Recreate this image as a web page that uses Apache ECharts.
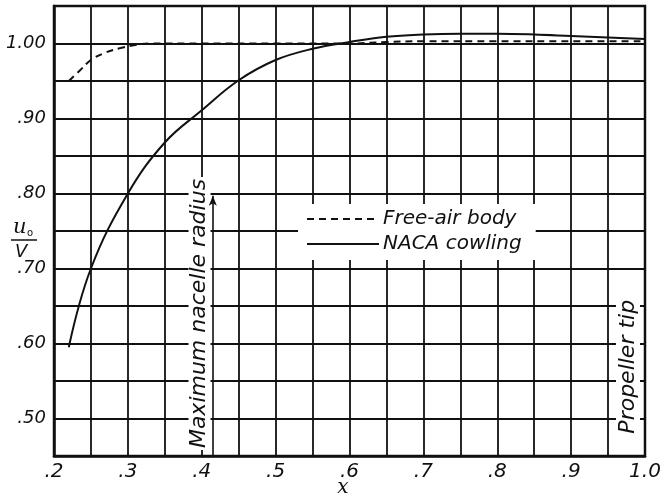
<!DOCTYPE html>
<html>
<head>
<meta charset="utf-8">
<script src="https://cdn.jsdelivr.net/npm/echarts@6/dist/echarts.min.js"></script>
<style>
  html, body { margin: 0; padding: 0; background: #fff; }
  #main { width: 662px; height: 499px; }
</style>
</head>
<body>
<div id="main"></div>
<script>
// free-air body (dashed)
var freeAirX = [0.22, 0.235, 0.25, 0.27, 0.29, 0.31, 0.33, 0.4, 0.5, 0.6, 0.65, 0.7, 0.8, 0.9, 1.0];
var freeAirY = [0.95, 0.964, 0.978, 0.988, 0.994, 0.998, 1.0, 1.0, 1.0, 1.0, 1.002, 1.003, 1.003, 1.003, 1.003];
// NACA cowling (solid)
var cowlingX = [0.22, 0.25, 0.3, 0.35, 0.4, 0.45, 0.5, 0.55, 0.6, 0.65, 0.7, 0.75, 0.8, 0.85, 0.9, 0.95, 1.0];
var cowlingY = [0.595, 0.70, 0.80, 0.868, 0.911, 0.951, 0.978, 0.993, 1.002, 1.009, 1.012, 1.013, 1.013, 1.012, 1.010, 1.008, 1.006];

var nacelleX = 0.415;       // maximum nacelle radius marker
var nacelleTop = 0.797;
var propellerX = 0.977;     // label position near propeller tip

var seriesNames = ['Free-air body', 'NACA cowling'];

function zip(xs, ys) {
    var out = [];
    for (var i = 0; i < xs.length; i++) out.push([xs[i], ys[i]]);
    return out;
}

var ink = '#111';
var font = '"DejaVu Sans", sans-serif';

var myChart = echarts.init(document.getElementById('main'));

var option = {
    backgroundColor: '#fff',
    animation: false,
    grid: {
        left: 54, right: 17, top: 6, bottom: 43,
        containLabel: false, outerBoundsMode: 'none',
        show: true, borderColor: ink, borderWidth: 2.5, backgroundColor: 'transparent'
    },
    legend: {
        orient: 'vertical',
        left: 298, top: 204,
        backgroundColor: '#fff',
        padding: [5, 14, 6, 8],
        itemWidth: 72, itemHeight: 14, itemGap: 5,
        data: seriesNames,
        itemStyle: { color: 'transparent', borderColor: 'transparent', borderWidth: 0 },
        textStyle: { fontFamily: font, fontStyle: 'italic', fontSize: 20, color: ink, padding: [0, 0, 0, -1] }
    },
    xAxis: {
        type: 'value',
        min: 0.2, max: 1.0, interval: 0.05,
        axisLine: { show: true, lineStyle: { color: ink, width: 2.5 } },
        axisTick: { show: false },
        axisLabel: {
            margin: 6,
            fontFamily: font, fontStyle: 'italic', fontSize: 20, color: ink,
            formatter: function (v) {
                var k = Math.round(v * 100);
                if (k % 10 !== 0) return '';
                if (k === 100) return '1.0';
                return '.' + (k / 10);
            }
        },
        splitLine: { show: true, lineStyle: { color: ink, width: 1.8 } }
    },
    yAxis: {
        type: 'value',
        min: 0.45, max: 1.05, interval: 0.05,
        axisLine: { show: true, lineStyle: { color: ink, width: 2.5 } },
        axisTick: { show: false },
        axisLabel: {
            margin: 8,
            fontFamily: font, fontStyle: 'italic', fontSize: 18, color: ink,
            formatter: function (v) {
                var k = Math.round(v * 100);
                if (k % 10 !== 0 || k > 100) return '';
                if (k === 100) return '1.00';
                return '.' + k;
            }
        },
        splitLine: { show: true, lineStyle: { color: ink, width: 1.8 } }
    },
    series: [
        {
            name: seriesNames[0],
            type: 'line',
            smooth: 0.4,
            symbol: 'none',
            data: zip(freeAirX, freeAirY),
            lineStyle: { color: ink, width: 2, type: [7, 5] },
            itemStyle: { color: ink },
            z: 3
        },
        {
            name: seriesNames[1],
            type: 'line',
            smooth: 0.4,
            symbol: 'none',
            data: zip(cowlingX, cowlingY),
            lineStyle: { color: ink, width: 2 },
            itemStyle: { color: ink },
            z: 3,
            markLine: {
                silent: true,
                symbol: ['none', 'arrow'],
                symbolSize: [6, 10],
                label: { show: false },
                lineStyle: { color: ink, width: 1.6, type: 'solid' },
                data: [[{ coord: [nacelleX, 0.45] }, { coord: [nacelleX, nacelleTop] }]],
                z: 120
            }
        }
    ]
};

myChart.setOption(option);

// annotations placed from data coordinates
var pNacelle = myChart.convertToPixel({ gridIndex: 0 }, [0.397, 0.64]);
var pProp = myChart.convertToPixel({ gridIndex: 0 }, [propellerX, 0.569]);

myChart.setOption({
    graphic: [
        {
            type: 'text', z: 100,
            x: pNacelle[0], y: pNacelle[1], rotation: Math.PI / 2,
            style: {
                text: 'Maximum nacelle radius',
                font: 'italic 22px ' + font,
                fill: ink, align: 'center', verticalAlign: 'middle',
                backgroundColor: '#fff', padding: [0, 2, 0, 2]
            }
        },
        {
            type: 'text', z: 100,
            x: pProp[0], y: pProp[1], rotation: Math.PI / 2,
            style: {
                text: 'Propeller tip',
                font: 'italic 22px ' + font,
                fill: ink, align: 'center', verticalAlign: 'middle',
                backgroundColor: '#fff', padding: [1, 4, 1, 4]
            }
        },
        // x axis title
        {
            type: 'text', z: 100, x: 343, y: 488,
            style: { text: 'x', font: 'italic 20px "DejaVu Serif", serif', fill: ink, align: 'center', verticalAlign: 'middle' }
        },
        // y axis label u0 / V
        {
            type: 'text', z: 100, x: 13, y: 228,
            style: { text: 'u', font: 'italic 21px "DejaVu Serif", serif', fill: ink, verticalAlign: 'middle' }
        },
        {
            type: 'text', z: 100, x: 27, y: 233,
            style: { text: 'o', font: '10px ' + font, fill: ink, verticalAlign: 'middle' }
        },
        {
            type: 'line', z: 100,
            shape: { x1: 11, y1: 240, x2: 37, y2: 240 },
            style: { stroke: ink, lineWidth: 1.5 }
        },
        {
            type: 'text', z: 100, x: 15, y: 252,
            style: { text: 'V', font: 'italic 18px ' + font, fill: ink, verticalAlign: 'middle' }
        }
    ]
});
</script>
</body>
</html>
